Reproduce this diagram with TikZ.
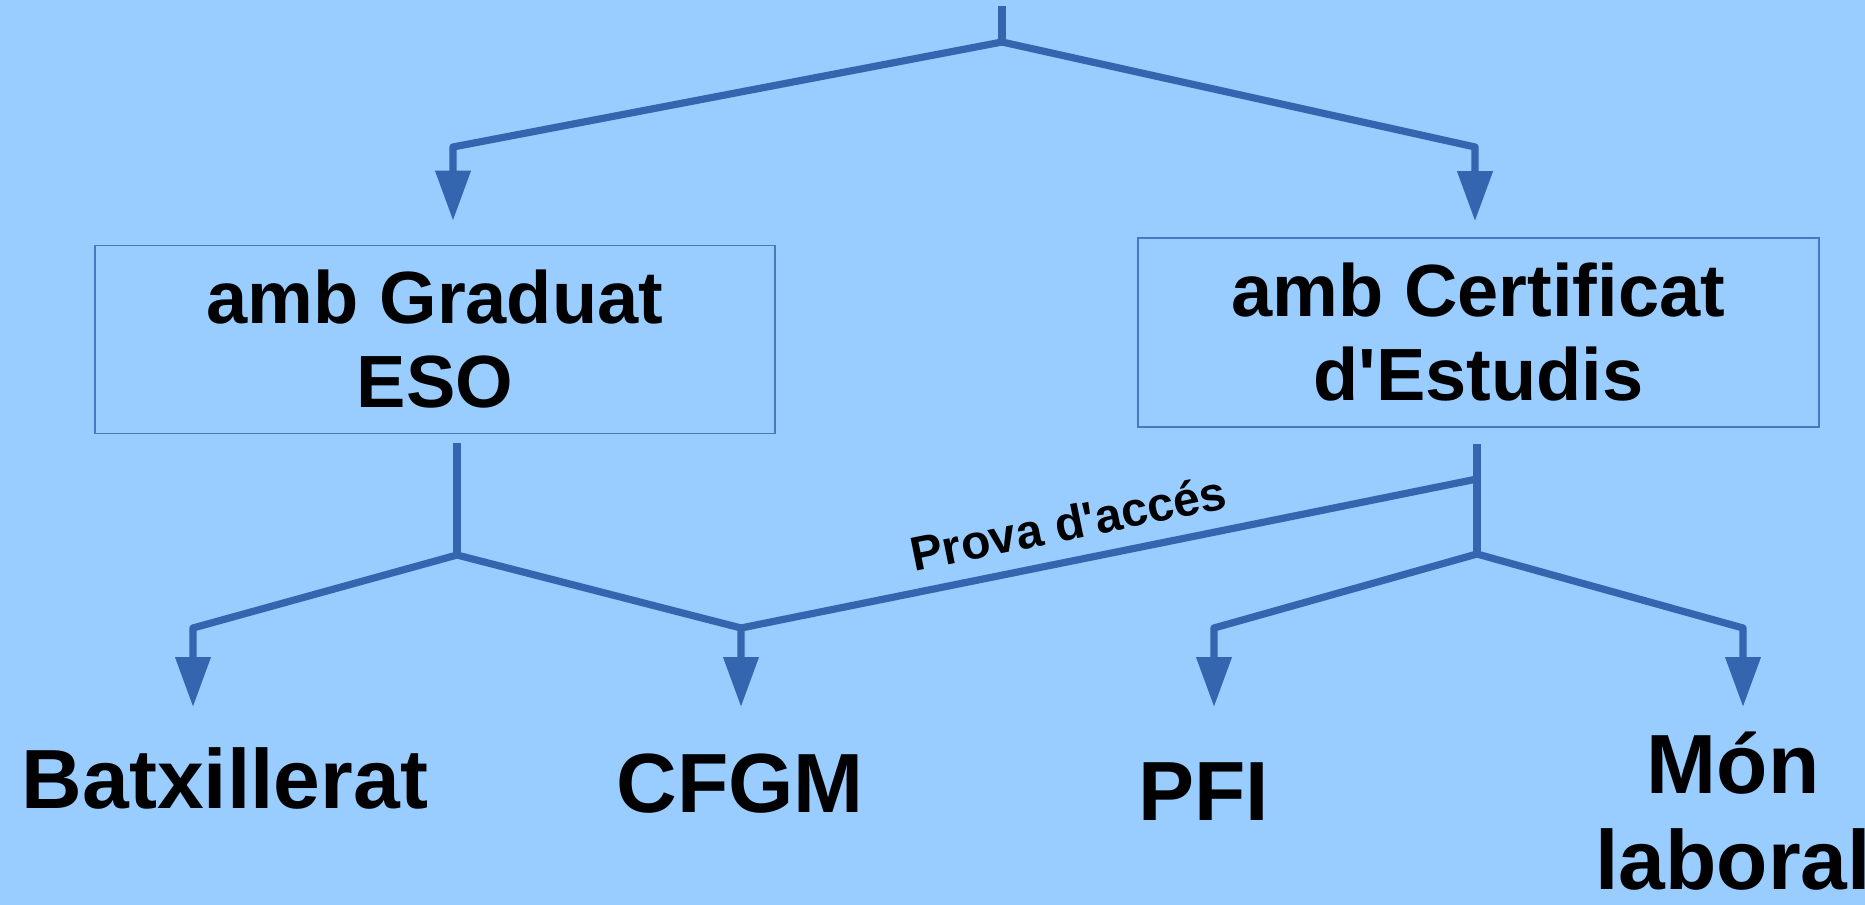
\documentclass[tikz,border=0pt]{standalone}
\usepackage{fontspec}
\setmainfont{Liberation Sans}
\usetikzlibrary{arrows.meta}
\definecolor{bg}{HTML}{99CCFF}
\definecolor{ln}{HTML}{3465AF}
\definecolor{bx}{HTML}{4A78C0}
\begin{document}
\begin{tikzpicture}[x=0.5pt,y=-0.5pt,
  conn/.style={draw=ln, line width=3.6pt, line join=round},
  arr/.style={conn, -{Triangle[length=25pt,width=17pt]}},
  box/.style={draw=bx, line width=0.8pt, minimum width=340pt, minimum height=94pt,
    align=center, inner sep=0pt, font=\bfseries\fontsize{37}{42}\selectfont},
  lbl/.style={inner sep=0pt, anchor=north, align=center,
    font=\bfseries\fontsize{42}{48}\selectfont},
  lab/.style={sloped, above, inner xsep=0pt, inner ysep=8.5pt,
    font=\bfseries\fontsize{24}{28}\selectfont}]
\fill[bg] (0,0) rectangle (1865,905);
\useasboundingbox (0,0) rectangle (1865,905);

% boxes
\node[box] (graduat) at (435,339.5) {amb Graduat\\ESO};
\node[box, minimum width=340.5pt, minimum height=94.5pt] (certificat) at (1478.5,332.5) {amb Certificat\\d\textquotesingle Estudis};

% bottom labels
\node[lbl] (batx) at (225,747) {Batxillerat};
\node[lbl] (cfgm) at (740,753) {CFGM};
\node[lbl] (pfi) at (1203.5,762) {PFI};
\node[lbl] (mon) at (1733,731) {Món\\laboral};

% junction points
\coordinate (top) at (1002,6);
\coordinate (j0) at (1002,42);
\coordinate (cG) at (453,147);
\coordinate (cC) at (1475,147);
\coordinate (jL) at (457,555);
\coordinate (jR) at (1477,554);
\coordinate (pR) at (1477,479);
\coordinate (cB) at (193,628);
\coordinate (cF) at (741,628);
\coordinate (cP) at (1214,628);
\coordinate (cM) at (1743,628);

% top tree
\draw[conn] (top) -- (j0);
\draw[arr, shorten >=12pt] (j0) -- (cG) -- (cG |- graduat.north);
\draw[arr, shorten >=8pt] (j0) -- (cC) -- (cC |- certificat.north);

% left subtree
\draw[conn, shorten <=4.5pt] (jL |- graduat.south) -- (jL);
\draw[arr, shorten >=20pt] (jL) -- (cB) -- (cB |- batx.north);
\draw[arr, shorten >=23pt] (jL) -- (cF) -- (cF |- cfgm.north);

% right subtree
\draw[conn, shorten <=8pt] (jR |- certificat.south) -- (jR);
\draw[arr, shorten >=27.5pt] (jR) -- (cP) -- (cP |- pfi.north);
\draw[arr, shorten >=12pt] (jR) -- (cM) -- (cM |- mon.north);

% access exam
\draw[conn] (cF) -- node[lab, pos=0.455] (prova) {Prova d\textquotesingle accés} (pR);
\end{tikzpicture}
\end{document}
